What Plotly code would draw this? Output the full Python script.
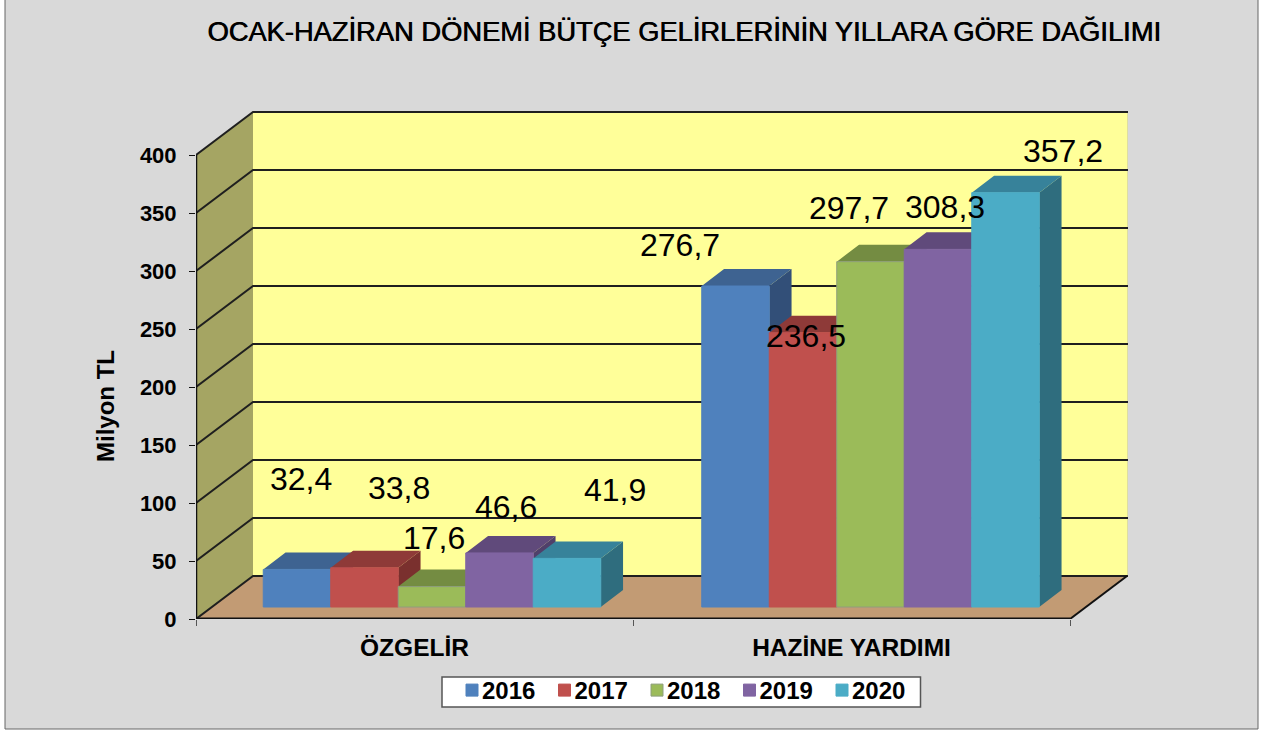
import plotly.graph_objects as go

# ---- data ----
categories = ["ÖZGELİR", "HAZİNE YARDIMI"]
years = ["2016", "2017", "2018", "2019", "2020"]
v2016 = [32.4, 276.7]
v2017 = [33.8, 236.5]
v2018 = [17.6, 297.7]
v2019 = [46.6, 308.3]
v2020 = [41.9, 357.2]
y_ticks = [0, 50, 100, 150, 200, 250, 300, 350, 400]
series = [v2016, v2017, v2018, v2019, v2020]

# ---- style / projection ----
FONT = "Liberation Sans"
front = ["#4F81BD", "#C0504D", "#9BBB59", "#8064A2", "#4BACC6"]
top = ["#3E6391", "#8E3A38", "#748C42", "#604A7B", "#37829A"]
side = ["#324F78", "#7A302E", "#5F7336", "#50406A", "#2F6D7E"]
edge = [front[0], front[1], "#8E9E7C", front[3], front[4]]
W, H = 1264, 735
L, R, T, B = 196, 1128, 111, 619      # plot area in px
PXU = 437.0      # px per category
PYU = 1.16       # px per value unit
DX, DY = 57 / PXU, 43 / PYU           # depth of the floor
BX, BY = 22.3 / PXU, 17 / PYU         # depth of a bar
BW = 67.5 / PXU
BASE = 12 / PYU
SHIFT = 17.5 / PXU
GROUP_STEP = 438.5 / PXU
x_lo = -0.5
x_hi = x_lo + (R - L) / PXU
x_end = 1.5
y_hi = (B - T) / PYU
ymax = y_ticks[-1]

# label offsets from the bar top centre, in px
label_dx = [[4, -55.75], [34, 3], [2, -21.75], [6, 6.75], [47.5, 57.75]]
label_dy = [[90.4, 41], [79.8, -3.3], [48.6, 53.7], [46, 42.4], [68.4, 41.6]]

fig = go.Figure()


def poly(xs, ys, color):
    fig.add_trace(go.Scatter(x=xs, y=ys, mode="lines", fill="toself", fillcolor=color,
                             line=dict(width=0, color=color), showlegend=False, hoverinfo="skip"))


def line(xs, ys, color="#1a1a1a", width=2):
    fig.add_trace(go.Scatter(x=xs, y=ys, mode="lines", line=dict(color=color, width=width),
                             showlegend=False, hoverinfo="skip"))


def pxx(p):
    return (p - L) / (R - L)


def pxy(p):
    return (B - p) / (B - T)


# walls and floor
poly([x_lo, x_lo + DX, x_lo + DX, x_lo, x_lo], [0, DY, ymax + DY, ymax, 0], "#A5A563")
poly([x_lo + DX, x_hi, x_hi, x_lo + DX, x_lo + DX], [DY, DY, ymax + DY, ymax + DY, DY], "#FFFF99")
poly([x_lo, x_end, x_end + DX, x_lo + DX, x_lo], [0, 0, DY, DY, 0], "#C29B74")
line([x_hi, x_hi], [DY, ymax + DY], "#BDBDA8", 1)
for t in y_ticks:
    line([x_lo, x_lo + DX, x_hi], [t, t + DY, t + DY], "#1f1f1f", 2)
line([x_end, x_end + DX], [0, DY], "#111111", 2)
line([x_lo, x_lo], [0, ymax], "#111111", 2.5)
line([x_lo, x_end], [0, 0], "#111111", 3)

# sides and tops of the bars, left to right
for i, vals in enumerate(series):
    sx, sy, tx, ty = [], [], [], []
    for c, v in enumerate(vals):
        x0 = c * GROUP_STEP + SHIFT + (i - 2.5) * BW
        x1 = x0 + BW
        tv = BASE + v
        sx += [x1, x1 + BX, x1 + BX, x1, x1, None]
        sy += [BASE, BASE + BY, tv + BY, tv, BASE, None]
        tx += [x0, x0 + BX, x1 + BX, x1, x0, None]
        ty += [tv, tv + BY, tv + BY, tv, tv, None]
    poly(sx, sy, side[i])
    poly(tx, ty, top[i])

# front faces, on an overlaid subplot so they cover the sides behind them
annotations = []
for i, (name, vals) in enumerate(zip(years, series)):
    xs = [c * GROUP_STEP + SHIFT + (i - 2) * BW for c in range(len(categories))]
    fig.add_trace(go.Bar(x=xs, y=vals, base=BASE, width=BW, name=name, xaxis="x2", yaxis="y2",
                         marker=dict(color=front[i], line=dict(width=1, color=edge[i])),
                         hovertemplate="%{fullData.name}: %{y}<extra></extra>"))
    for c, v in enumerate(vals):
        annotations.append(dict(x=xs[c], y=BASE + v, xref="x2", yref="y2", showarrow=False,
                                text=f"{v:.1f}".replace(".", ","), xanchor="center", yanchor="middle",
                                xshift=label_dx[i][c], yshift=label_dy[i][c],
                                font=dict(family=FONT, size=32, color="black")))

annotations.append(dict(x=pxx(105), y=pxy(406), xref="paper", yref="paper",
                        text="Milyon TL", textangle=-90, showarrow=False, xanchor="center", yanchor="middle",
                        font=dict(family=FONT, size=24, color="black", weight="bold")))

fig.update_layout(
    width=W, height=H, autosize=False,
    margin=dict(l=L, r=W - R, t=T, b=H - B, autoexpand=False),
    paper_bgcolor="white", plot_bgcolor="rgba(0,0,0,0)",
    barmode="overlay",
    title=dict(text="OCAK-HAZİRAN DÖNEMİ BÜTÇE GELİRLERİNİN YILLARA GÖRE DAĞILIMI",
               x=684 / W, y=1 - 31 / H, xref="container", yref="container",
               xanchor="center", yanchor="middle",
               font=dict(family=FONT, size=27.3, color="black", shadow="0.7px 0 0 black")),
    xaxis=dict(range=[x_lo, x_hi], tickmode="array", tickvals=[0, 1], ticktext=categories,
               ticks="", showgrid=False, zeroline=False, showline=False, ticklabelstandoff=11,
               tickfont=dict(family=FONT, size=24.5, color="black", weight="bold"),
               minor=dict(tickmode="array", tickvals=[-0.5, 0.5, 1.5], ticks="outside", ticklen=6,
                          tickcolor="#555555", tickwidth=1, showgrid=False)),
    yaxis=dict(range=[0, y_hi], tickmode="array", tickvals=y_ticks, ticks="outside", ticklen=6,
               tickcolor="#111111", tickwidth=1, showgrid=False, zeroline=False, showline=False,
               ticklabelstandoff=8,
               tickfont=dict(family=FONT, size=22, color="black", weight="bold")),
    xaxis2=dict(overlaying="x", matches="x", visible=False),
    yaxis2=dict(overlaying="y", matches="y", visible=False),
    legend=dict(orientation="h", x=pxx(452), y=pxy(668), xanchor="left", yanchor="top",
                bgcolor="rgba(0,0,0,0)", borderwidth=0, traceorder="normal",
                font=dict(family=FONT, size=24, color="black", weight="bold"),
                indentation=-10, entrywidth=57.5, entrywidthmode="pixels"),
    shapes=[dict(type="rect", xref="paper", yref="paper", layer="below",
                 x0=pxx(5), x1=pxx(1258), y0=pxy(729), y1=pxy(-5),
                 fillcolor="#D9D9D9", line=dict(color="#666666", width=1)),
            dict(type="rect", xref="paper", yref="paper", layer="below",
                 x0=pxx(442), x1=pxx(920.5), y0=pxy(707), y1=pxy(677),
                 fillcolor="white", line=dict(color="#555555", width=1.5))],
    annotations=annotations,
)

# body margin off; legend swatches sit close to their text, as in the reference
post = ("document.body.style.margin='0';"
        "var s=document.createElement('style');"
        "s.textContent='.legendsymbols{transform:translateX(10px)}';"
        "document.head.appendChild(s);")
fig.write_html("out.html", config={"displayModeBar": False}, post_script=post)
